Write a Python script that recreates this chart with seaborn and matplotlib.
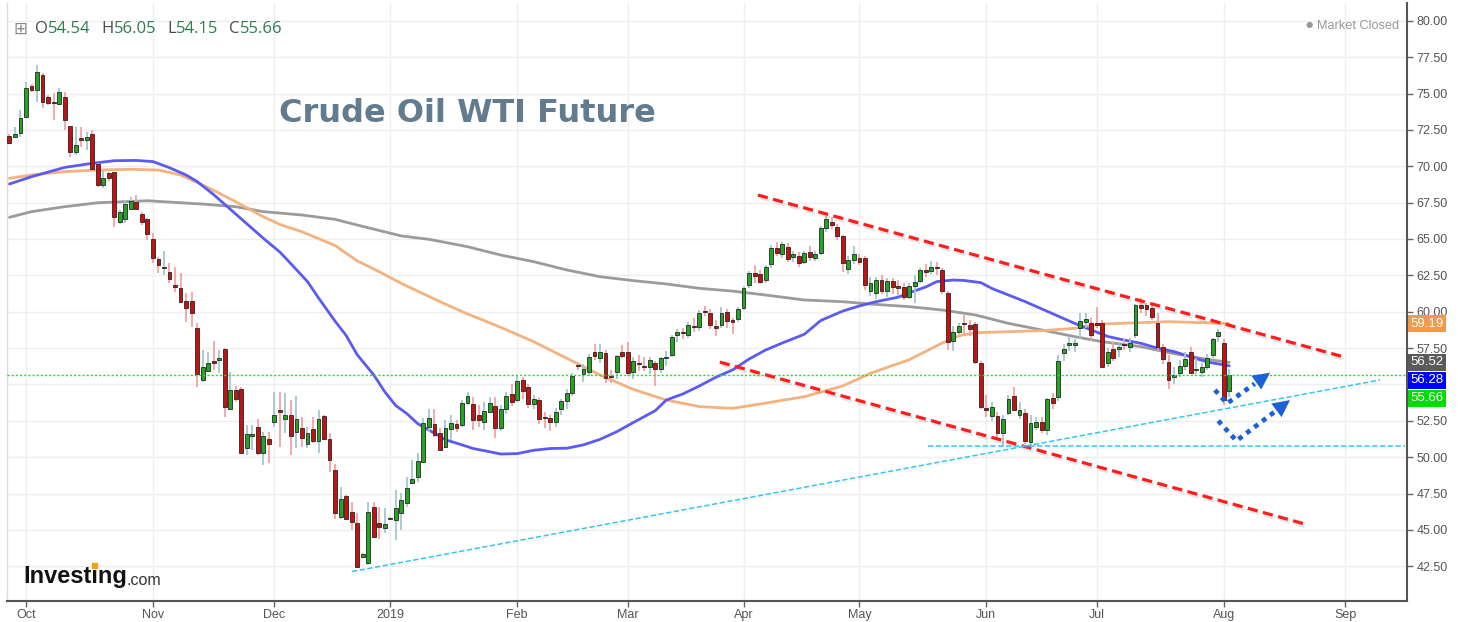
import numpy as np
import pandas as pd
import matplotlib
matplotlib.use("Agg")
import matplotlib.pyplot as plt
import seaborn as sns
from matplotlib import patheffects as pe
from matplotlib.patches import Rectangle

# ---------------------------------------------------------------- data
first_day = "2018-09-26"
last_day = "2019-09-30"
closed_days = ["2019-04-19"]

# daily candles, 2018-09-26 .. 2019-08-02 (one row per month in the lists)
candle_open = [
    72.08, 72.03, 72.26,
    73.36, 75.51, 75.24, 76.27, 74.73, 74.44, 74.25, 74.73, 72.76, 71.00, 71.92, 71.80, 72.21, 70.13, 68.71, 69.51, 69.58, 66.14, 66.35, 67.04, 67.56, 66.72, 66.35,
    64.97, 63.60, 63.00, 62.73, 61.81, 61.65, 60.76, 60.71, 58.85, 55.30, 55.94, 56.63, 56.68, 57.41, 53.35, 54.61, 54.66, 50.61, 51.48, 52.09, 50.26, 51.22,
    52.44, 53.24, 52.60, 52.90, 51.75, 51.98, 50.90, 51.91, 51.13, 52.83, 51.22, 49.12, 45.86, 47.33, 46.23, 45.45, 43.16, 42.70, 46.55, 45.45, 45.15,
    45.75, 45.68, 46.14, 46.87, 48.25, 48.66, 49.69, 52.09, 52.28, 51.68, 50.72, 51.93, 52.28, 52.21, 53.70, 53.65, 52.90, 52.44, 53.13, 53.52, 52.00, 53.31, 54.32,
    53.93, 55.31, 54.85, 53.66, 53.93, 52.75, 52.67, 52.45, 53.32, 53.89, 54.44, 56.34, 55.72, 55.88, 57.26, 56.80, 57.14, 55.54, 55.88, 57.26,
    57.26, 55.84, 56.50, 56.29, 56.18, 56.45, 56.04, 56.80, 57.03, 58.40, 58.56, 58.40, 59.02, 58.97, 60.07, 59.89, 59.02, 59.09, 60.01, 59.43, 59.50,
    60.23, 61.84, 62.64, 62.57, 62.18, 63.28, 64.40, 63.97, 64.47, 63.74, 63.83, 63.45, 64.10, 63.70, 64.01, 65.73, 66.19, 65.85, 65.21, 62.92, 63.56,
    63.67, 63.67, 61.41, 61.30, 62.20, 61.40, 62.10, 61.80, 61.70, 61.04, 61.80, 62.10, 62.90, 62.80, 63.10, 62.90, 61.30, 58.00, 58.63, 59.25, 59.10, 59.16, 56.45,
    53.36, 52.84, 52.84, 51.64, 53.02, 54.21, 52.90, 53.02, 51.07, 52.10, 52.45, 51.87, 54.10, 54.16, 57.19, 57.72, 57.70, 58.86, 59.32, 59.25,
    59.25, 59.20, 56.45, 57.42, 57.42, 57.78, 57.55, 58.40, 60.46, 60.46, 60.23, 59.20, 57.60, 56.57, 55.50, 55.77, 56.27, 57.26, 56.00, 55.88, 56.23, 57.03, 58.33,
    57.87, 54.54,
]
candle_high = [
    72.25, 72.72, 73.86,
    75.81, 75.62, 76.96, 76.38, 74.90, 75.01, 75.35, 75.12, 72.80, 72.72, 72.72, 72.37, 72.49, 70.20, 69.74, 69.60, 69.63, 67.00, 67.68, 67.91, 68.02, 66.88, 66.42,
    65.39, 63.78, 64.20, 63.33, 63.10, 62.64, 61.26, 61.38, 59.20, 57.36, 57.25, 58.00, 57.36, 57.50, 55.87, 54.90, 54.80, 52.21, 52.21, 52.60, 51.75, 51.75,
    54.50, 54.50, 54.43, 53.93, 54.20, 52.74, 52.09, 52.78, 53.24, 52.90, 51.64, 49.57, 47.97, 47.40, 46.94, 46.14, 43.40, 46.94, 46.94, 46.60, 46.48,
    45.90, 47.74, 47.51, 48.66, 49.80, 50.31, 52.67, 53.35, 53.35, 51.98, 52.55, 52.90, 52.55, 53.93, 54.50, 54.16, 53.58, 53.82, 54.16, 54.16, 53.60, 54.50, 55.00,
    55.60, 55.50, 55.00, 54.30, 54.10, 53.10, 52.90, 53.40, 54.00, 54.70, 55.80, 56.50, 56.40, 57.10, 57.80, 57.80, 57.40, 56.00, 57.00, 57.70,
    57.90, 56.90, 57.00, 56.90, 56.90, 56.60, 56.90, 57.30, 58.40, 58.80, 58.90, 59.30, 59.60, 60.10, 60.40, 60.20, 59.40, 60.30, 60.20, 59.60, 60.30,
    61.80, 62.80, 63.20, 62.90, 63.20, 64.60, 64.80, 64.80, 64.70, 64.20, 64.10, 64.20, 64.50, 64.20, 65.90, 66.60, 66.50, 66.00, 65.30, 63.80, 64.50,
    64.00, 63.80, 62.40, 62.40, 62.50, 62.30, 62.30, 62.20, 62.00, 62.00, 62.50, 63.00, 63.30, 63.50, 63.40, 63.00, 61.40, 59.00, 59.20, 59.80, 59.40, 59.30, 56.60,
    54.30, 53.80, 53.10, 52.90, 54.30, 54.80, 53.80, 53.30, 52.90, 52.80, 52.80, 54.10, 54.40, 57.00, 57.80, 58.30, 58.10, 59.90, 59.90, 59.60,
    60.35, 59.40, 57.50, 57.90, 57.90, 58.10, 58.20, 60.50, 60.94, 60.60, 60.60, 59.90, 57.80, 57.00, 56.20, 56.70, 57.20, 57.60, 56.80, 56.50, 57.10, 58.20, 58.80,
    58.10, 56.05,
]
candle_low = [
    71.50, 71.92, 72.03,
    73.29, 75.10, 74.44, 73.98, 74.20, 73.18, 74.21, 72.49, 70.66, 70.77, 71.34, 71.11, 69.74, 68.60, 68.48, 69.00, 65.85, 66.00, 66.07, 66.99, 66.99, 65.96, 64.93,
    63.33, 62.64, 62.52, 61.95, 61.38, 60.58, 59.32, 58.97, 54.80, 55.19, 55.87, 56.00, 55.76, 52.78, 53.24, 53.80, 50.22, 50.15, 50.49, 50.15, 49.46, 49.62,
    52.09, 50.72, 51.64, 50.15, 50.61, 50.72, 50.61, 50.99, 50.26, 51.18, 49.00, 45.79, 45.79, 45.68, 44.99, 42.36, 43.10, 42.59, 44.49, 44.35, 44.76,
    45.70, 44.31, 44.99, 46.60, 48.15, 48.31, 49.62, 51.75, 51.41, 50.42, 50.61, 51.18, 51.75, 52.09, 53.58, 51.87, 52.09, 51.87, 53.02, 51.30, 51.80, 53.00, 53.50,
    53.80, 54.00, 53.40, 53.30, 52.30, 52.00, 51.80, 52.10, 52.90, 53.30, 54.20, 56.00, 55.20, 55.60, 56.70, 56.50, 55.10, 55.10, 55.40, 56.80,
    55.60, 55.40, 55.90, 55.90, 55.70, 54.90, 55.80, 56.30, 56.90, 57.90, 58.10, 58.20, 58.60, 58.70, 59.70, 58.80, 58.30, 58.90, 58.90, 58.50, 59.30,
    60.10, 61.60, 62.00, 61.90, 62.00, 63.00, 63.80, 63.70, 63.40, 63.40, 63.10, 63.30, 63.50, 63.50, 63.90, 65.50, 65.70, 64.90, 62.70, 62.60, 63.30,
    63.20, 61.50, 61.10, 60.90, 61.20, 61.00, 61.20, 61.10, 60.80, 60.90, 60.60, 62.00, 62.40, 62.60, 62.50, 61.20, 57.40, 57.30, 58.50, 58.50, 58.30, 56.40, 53.30,
    52.80, 52.50, 51.20, 50.70, 52.90, 53.20, 52.60, 50.90, 50.80, 51.90, 51.70, 51.50, 53.30, 53.90, 56.60, 57.30, 57.20, 58.10, 58.90, 58.06,
    58.90, 56.20, 56.20, 56.60, 56.90, 57.40, 57.20, 58.20, 59.90, 59.70, 59.40, 57.30, 56.40, 54.70, 55.00, 55.50, 56.00, 55.70, 55.70, 55.50, 56.00, 56.80, 57.90,
    53.60, 54.15,
]
candle_close = [
    71.62, 72.21, 73.29,
    75.35, 75.24, 76.50, 74.44, 74.37, 74.32, 75.08, 73.18, 71.00, 71.46, 71.80, 71.99, 69.79, 68.71, 69.17, 69.17, 66.49, 66.88, 67.38, 67.63, 67.06, 66.14, 65.34,
    63.67, 63.21, 63.10, 62.23, 61.68, 60.69, 60.23, 59.89, 55.71, 56.22, 56.49, 56.45, 56.79, 53.42, 54.61, 53.97, 50.31, 51.59, 51.57, 50.26, 51.45, 50.90,
    52.90, 53.13, 52.90, 51.45, 52.62, 51.29, 51.64, 51.13, 52.60, 51.22, 49.80, 46.18, 47.10, 45.79, 45.57, 42.47, 43.34, 46.25, 44.53, 45.22, 45.38,
    45.84, 46.53, 47.05, 47.90, 48.50, 49.76, 52.37, 52.67, 51.52, 50.49, 52.03, 52.32, 52.03, 53.74, 54.20, 52.55, 52.55, 53.18, 53.75, 51.99, 53.31, 54.23, 53.79,
    55.26, 54.56, 53.66, 54.01, 52.64, 52.72, 52.41, 53.10, 53.90, 54.41, 55.59, 56.29, 56.09, 56.92, 56.96, 57.26, 55.48, 55.50, 56.94, 56.96,
    55.77, 56.64, 56.43, 56.23, 56.68, 56.04, 56.80, 56.91, 58.29, 58.63, 58.52, 59.09, 58.97, 59.89, 60.01, 59.09, 58.86, 59.94, 59.39, 59.32, 60.17,
    61.66, 62.69, 62.46, 62.07, 63.10, 64.40, 64.01, 64.66, 63.60, 63.95, 63.37, 64.05, 63.76, 64.00, 65.73, 66.35, 65.96, 65.21, 63.33, 63.56, 63.95,
    63.40, 61.84, 61.95, 62.20, 61.40, 62.10, 61.70, 61.66, 61.04, 61.78, 62.02, 62.87, 62.76, 63.10, 62.99, 61.42, 57.91, 58.63, 59.00, 59.14, 58.81, 56.57, 53.43,
    53.25, 53.48, 51.64, 52.60, 53.98, 53.25, 53.27, 51.10, 52.33, 52.45, 51.87, 53.98, 53.75, 56.61, 57.42, 57.88, 57.83, 59.39, 59.50, 58.40,
    59.09, 56.23, 57.26, 56.85, 57.60, 57.69, 57.87, 60.46, 60.23, 60.21, 59.62, 57.60, 56.73, 55.31, 55.63, 56.27, 56.73, 55.81, 56.04, 56.23, 56.80, 58.10, 58.63,
    53.93, 55.66,
]

# moving averages (blue = fast, orange = mid, grey = slow)
ma_fast_dates = ["2018-09-26", "2018-10-02", "2018-10-10", "2018-10-17", "2018-10-23", "2018-10-29", "2018-11-01", "2018-11-06",
                 "2018-11-09", "2018-11-13", "2018-11-16", "2018-11-21", "2018-11-26", "2018-11-29", "2018-12-04", "2018-12-06",
                 "2018-12-11", "2018-12-13", "2018-12-18", "2018-12-20", "2018-12-24", "2018-12-27", "2018-12-31", "2019-01-02",
                 "2019-01-04", "2019-01-08", "2019-01-11", "2019-01-15", "2019-01-18", "2019-01-22", "2019-01-25", "2019-01-29",
                 "2019-02-01", "2019-02-06", "2019-02-11", "2019-02-14", "2019-02-19", "2019-02-22", "2019-02-27", "2019-03-04",
                 "2019-03-08", "2019-03-12", "2019-03-15", "2019-03-20", "2019-03-25", "2019-03-28", "2019-04-02", "2019-04-05",
                 "2019-04-10", "2019-04-16", "2019-04-22", "2019-04-26", "2019-05-01", "2019-05-06", "2019-05-10", "2019-05-14",
                 "2019-05-17", "2019-05-21", "2019-05-24", "2019-05-28", "2019-05-31", "2019-06-04", "2019-06-07", "2019-06-12",
                 "2019-06-17", "2019-06-20", "2019-06-25", "2019-06-28", "2019-07-03", "2019-07-08", "2019-07-11", "2019-07-16",
                 "2019-07-19", "2019-07-24", "2019-07-29", "2019-08-02"]
ma_fast_values = [68.78, 69.28, 69.92, 70.20, 70.38, 70.40, 70.32, 69.90,
                  69.40, 68.95, 68.05, 67.05, 66.05, 65.05, 64.10, 63.30,
                  62.07, 60.95, 59.35, 58.37, 57.05, 55.66, 54.50, 53.55,
                  53.00, 52.30, 51.65, 51.20, 50.85, 50.60, 50.38, 50.22,
                  50.25, 50.48, 50.60, 50.62, 50.85, 51.23, 51.75, 52.38,
                  53.20, 53.93, 54.35, 54.90, 55.50, 56.00, 56.75, 57.37,
                  57.85, 58.45, 59.40, 60.05, 60.40, 60.69, 61.00, 61.30,
                  61.70, 62.07, 62.18, 62.15, 62.00, 61.60, 61.15, 60.70,
                  60.20, 59.70, 59.20, 58.75, 58.30, 58.05, 57.83, 57.50,
                  57.26, 56.90, 56.55, 56.28]

ma_mid_dates = ["2018-09-26", "2018-10-02", "2018-10-10", "2018-10-18", "2018-10-26", "2018-11-02", "2018-11-08", "2018-11-14",
                "2018-11-19", "2018-11-22", "2018-11-29", "2018-12-04", "2018-12-10", "2018-12-18", "2018-12-24", "2018-12-28",
                "2019-01-03", "2019-01-10", "2019-01-16", "2019-01-21", "2019-01-29", "2019-02-06", "2019-02-14", "2019-02-22",
                "2019-03-04", "2019-03-12", "2019-03-20", "2019-03-28", "2019-04-05", "2019-04-16", "2019-04-26", "2019-05-03",
                "2019-05-14", "2019-05-22", "2019-05-27", "2019-05-30", "2019-06-07", "2019-06-17", "2019-06-25", "2019-07-02",
                "2019-07-11", "2019-07-18", "2019-08-02"]
ma_mid_values = [69.17, 69.40, 69.63, 69.74, 69.79, 69.74, 69.40, 68.71,
                 68.15, 67.56, 66.53, 66.00, 65.50, 64.55, 63.50, 62.75,
                 61.95, 61.05, 60.35, 59.85, 58.93, 57.94, 56.80, 55.65,
                 54.67, 53.93, 53.48, 53.36, 53.72, 54.16, 54.90, 55.77,
                 56.70, 57.85, 58.35, 58.56, 58.63, 58.70, 58.86, 59.16,
                 59.25, 59.32, 59.19]

ma_slow_dates = ["2018-09-26", "2018-10-02", "2018-10-10", "2018-10-18", "2018-10-31", "2018-11-14", "2018-11-22", "2018-11-29",
                 "2018-12-10", "2018-12-18", "2018-12-24", "2019-01-03", "2019-01-10", "2019-01-21", "2019-01-29", "2019-02-06",
                 "2019-02-14", "2019-02-22", "2019-03-04", "2019-03-12", "2019-03-20", "2019-03-28", "2019-04-05", "2019-04-16",
                 "2019-04-26", "2019-05-03", "2019-05-14", "2019-05-22", "2019-05-30", "2019-06-07", "2019-06-17", "2019-06-25",
                 "2019-07-02", "2019-07-11", "2019-07-18", "2019-07-29", "2019-08-02"]
ma_slow_values = [66.49, 66.88, 67.22, 67.49, 67.63, 67.40, 67.22, 66.88,
                  66.65, 66.35, 65.96, 65.21, 64.98, 64.47, 63.90, 63.44,
                  62.87, 62.41, 62.14, 61.91, 61.61, 61.42, 61.15, 60.81,
                  60.69, 60.53, 60.35, 60.12, 59.78, 59.20, 58.75, 58.29,
                  57.94, 57.60, 57.19, 56.73, 56.52]

# hand-drawn lines (time, price)
upper_red_times = ["2019-04-03 14:24", "2019-08-30 19:12"]
upper_red_prices = [68.02, 56.89]
lower_red_times = ["2019-03-25 16:48", "2019-08-21 16:48"]
lower_red_prices = [56.54, 45.41]
rising_cyan_times = ["2018-12-21 01:26", "2019-09-10 07:12"]
rising_cyan_prices = [42.14, 55.31]
flat_cyan_times = ["2019-05-17 09:36", "2019-09-16 19:12"]
flat_cyan_prices = [50.77, 50.77]
arrow1_times = ["2019-07-30 09:36", "2019-08-01 14:24", "2019-08-13 09:36"]
arrow1_prices = [54.62, 53.70, 55.81]
arrow2_times = ["2019-07-31 00:00", "2019-08-05 07:12", "2019-08-19 00:00"]
arrow2_prices = [52.51, 51.13, 53.93]

tick_months = ["2018-10", "2018-11", "2018-12", "2019-01", "2019-02", "2019-03",
               "2019-04", "2019-05", "2019-06", "2019-07", "2019-08", "2019-09"]
tick_labels = ["Oct", "Nov", "Dec", "2019", "Feb", "Mar", "Apr", "May", "Jun", "Jul", "Aug", "Sep"]
y_ticks = [42.5, 45.0, 47.5, 50.0, 52.5, 55.0, 57.5, 60.0, 62.5, 65.0, 67.5, 70.0, 72.5, 75.0, 77.5, 80.0]

title_text = "Crude Oil WTI Future"

# ---------------------------------------------------------------- setup
sns.set_theme(style="white")
plt.rcParams["font.family"] = ["Liberation Sans", "DejaVu Sans"]

cal = pd.bdate_range(first_day, last_day).drop(pd.to_datetime(closed_days))


def pos(t):
    t = pd.Timestamp(t)
    d = t.normalize()
    return cal.get_loc(d) + (t - d) / pd.Timedelta(days=1)


o = np.array(candle_open)
h = np.array(candle_high)
l = np.array(candle_low)
c = np.array(candle_close)
n = len(c)
xs = np.arange(n)

W, H = 1458, 622
fig = plt.figure(figsize=(W / 100, H / 100), dpi=100)
fig.patch.set_facecolor("white")
ax = fig.add_axes([7 / W, 21 / H, 1400 / W, 598 / H])
ax.set_facecolor("white")
ax.set_xlim(-0.44, 253.2)
ax.set_ylim(40.12, 81.22)

# right price labels: stacked positions (computed first so covered tick labels can be hidden)
ppu = ax.transData.transform((0, 1))[1] - ax.transData.transform((0, 0))[1]
box_h = 18.0 / ppu
labels = sorted([(ma_mid_values[-1], "#f29a48"), (ma_slow_values[-1], "#5a5a5a"),
                 (ma_fast_values[-1], "#0000ff"), (c[-1], "#00dd00")],
                key=lambda t: -t[0])
placed = []
prev_y = None
for val, col in labels:
    y = val if prev_y is None else min(val, prev_y - box_h)
    prev_y = y
    placed.append((val, y, col))

# grid / ticks
ax.set_yticks(y_ticks)
ytl = []
for v in y_ticks:
    covered = any(abs(v - y) < box_h * 0.55 for _, y, _ in placed)
    ytl.append("" if covered else f"{v:.2f}")
ax.set_yticklabels(ytl)
tick_pos = [cal.searchsorted(pd.Timestamp(m + "-01")) for m in tick_months]
ax.set_xticks(tick_pos)
ax.set_xticklabels(tick_labels)
ax.grid(True, color="#efefef", lw=1)
ax.set_axisbelow(True)
ax.yaxis.tick_right()
ax.tick_params(axis="y", right=True, left=False, length=4, width=1, color="#666",
               labelcolor="#555", labelsize=9, pad=3)
ax.tick_params(axis="x", bottom=True, length=4, width=1, color="#666",
               labelcolor="#555", labelsize=9, pad=2)
for side in ["right", "bottom"]:
    ax.spines[side].set_color("#555")
    ax.spines[side].set_linewidth(1.5)
ax.spines["left"].set_color("#dcdcdc")
ax.spines["left"].set_linewidth(1)
ax.spines["top"].set_visible(False)

# moving averages
for dates, vals, col, lw in [(ma_slow_dates, ma_slow_values, "#9b9b9b", 2.0),
                             (ma_mid_dates, ma_mid_values, "#f4b27e", 2.0),
                             (ma_fast_dates, ma_fast_values, "#5b5bf2", 2.0)]:
    sns.lineplot(x=[pos(d) for d in dates], y=vals, ax=ax, color=col, lw=lw,
                 estimator=None, sort=False, zorder=2)
for ln in ax.get_lines():
    ln.set_solid_joinstyle("round")

# candles
up = c >= o
wick_cols = np.where(up, "#a6c6d0", "#f2a3a3")
body_cols = np.where(up, "#22a622", "#c81010")
ax.vlines(xs, l, h, colors=wick_cols, lw=1.3, zorder=3)
ax.bar(xs, np.maximum(np.abs(c - o), 0.06), bottom=np.minimum(o, c), width=0.7,
       color=body_cols, edgecolor="#262626", linewidth=0.6, zorder=4)

# current price line
ax.axhline(c[-1], color="#1fe01f", lw=1.0, ls=(0, (1.5, 1.5)), zorder=5)

red_shadow = [pe.SimpleLineShadow(offset=(1.2, -2.0), shadow_color="#777", alpha=0.18), pe.Normal()]
cyan_shadow = [pe.SimpleLineShadow(offset=(0.8, -1.5), shadow_color="#999", alpha=0.10), pe.Normal()]
for times, prices, col, lw, ls, fx_ in [
        (upper_red_times, upper_red_prices, "#ff1c1c", 2.3, (0, (3.2, 1.7)), red_shadow),
        (lower_red_times, lower_red_prices, "#ff1c1c", 2.3, (0, (3.2, 1.7)), red_shadow),
        (rising_cyan_times, rising_cyan_prices, "#38c6ee", 1.1, (0, (3.5, 1.6)), cyan_shadow),
        (flat_cyan_times, flat_cyan_prices, "#38c6ee", 1.1, (0, (3.5, 1.6)), cyan_shadow)]:
    ax.plot([pos(t) for t in times], prices, color=col, lw=lw, ls=ls,
            path_effects=fx_, zorder=6)

# dotted arrows
inv = ax.transData.inverted()
for times, prices in [(arrow1_times, arrow1_prices), (arrow2_times, arrow2_prices)]:
    P = ax.transData.transform(np.c_[[pos(t) for t in times], prices])
    tip, prev = P[-1], P[-2]
    d = (tip - prev) / np.linalg.norm(tip - prev)
    nrm = np.array([-d[1], d[0]])
    base = tip - 17 * d
    line_px = np.vstack([P[:-1], base - 2 * d])
    line_data = inv.transform(line_px)
    ax.plot(line_data[:, 0], line_data[:, 1], color="#1d5fd8", lw=3.4,
            ls=(0, (1.0, 1.1)), zorder=7)
    tri = inv.transform(np.vstack([tip, base + 8.5 * nrm, base - 8.5 * nrm]))
    ax.fill(tri[:, 0], tri[:, 1], color="#1d5fd8", zorder=7, lw=0)

# right price label boxes
for val, y, col in placed:
    ax.annotate(f"{val:.2f}", xy=(1, y), xycoords=("axes fraction", "data"),
                xytext=(2.6, 0), textcoords="offset points", ha="left", va="center",
                fontsize=9.5, color="white",
                bbox=dict(boxstyle="square,pad=0.18", fc=col, ec="none"),
                zorder=20, annotation_clip=False)


# header
def fx(px):
    return px / W


def fy(py):
    return 1 - py / H


fig.text(fx(13), fy(33.5), "\u229e", fontsize=12, color="#888", family="DejaVu Sans", va="baseline")
hdr_font = ["Open Sans", "DejaVu Sans"]
prev = fig.text(fx(35), fy(33.3), "O", fontsize=12, color="#4c4c4c", family=hdr_font, va="baseline")
pieces = [(f"{o[-1]:.2f}", "#2f7d4f", 0.3), ("H", "#4c4c4c", 7.5), (f"{h[-1]:.2f}", "#2f7d4f", 0.3),
          ("L", "#4c4c4c", 7.5), (f"{l[-1]:.2f}", "#2f7d4f", 0.3),
          ("C", "#4c4c4c", 7.5), (f"{c[-1]:.2f}", "#2f7d4f", 0.3)]
for s, col, gap in pieces:
    prev = ax.annotate(s, xy=(1, 0), xycoords=prev, xytext=(gap, 0), textcoords="offset points",
                       ha="left", va="bottom", fontsize=12, color=col, family=hdr_font,
                       annotation_clip=False)

fig.text(fx(1309), fy(27.5), "\u25cf", fontsize=6, color="#999", ha="center", va="baseline",
         family="DejaVu Sans")
fig.text(fx(1399), fy(29.3), "Market Closed", fontsize=9.2, color="#999", ha="right", va="baseline")

fig.text(fx(467.5), fy(121.7), title_text, fontsize=23, fontweight="bold", color="#627b8e",
         ha="center", va="baseline", family="DejaVu Sans")

logo = fig.text(fx(23), fy(583.3), "Investing", fontsize=17, fontweight="bold", color="#111",
                va="baseline", family="Liberation Sans")
ax.annotate(".com", xy=(1, 0), xycoords=logo, xytext=(0, 0), textcoords="offset points",
            ha="left", va="bottom", fontsize=11.5, color="#333", family="Liberation Sans",
            annotation_clip=False)
# orange dot over the second "i" of the logo
renderer = fig.canvas.get_renderer()
bb = logo.get_window_extent(renderer)
dot_x = bb.x0 + 0.69 * bb.width
dot_y = (H - 583.3) + 17.5
fig.add_artist(Rectangle(((dot_x - 2.4) / W, (dot_y - 2.4) / H), 4.8 / W, 4.8 / H,
                         transform=fig.transFigure, color="#f5a01a", zorder=30))

fig.savefig("out.png", dpi=100)
